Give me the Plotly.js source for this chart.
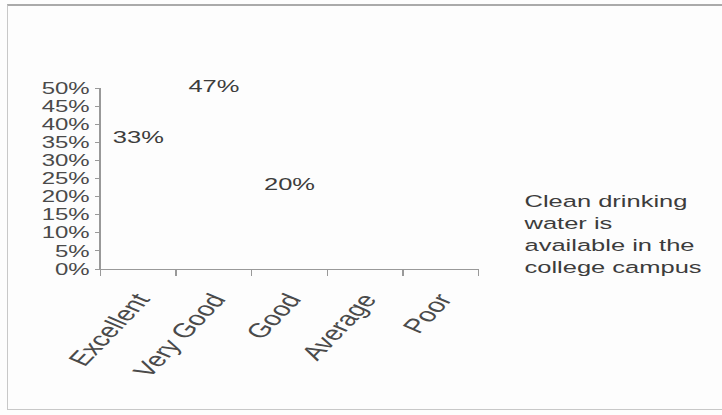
<!DOCTYPE html>
<html><head><meta charset="utf-8">
<script src="https://cdn.plot.ly/plotly-3.0.1.min.js"></script>
<style>
html,body{margin:0;padding:0;background:#fdfdfd;overflow:hidden;width:722px;height:415px;}
#chart{position:absolute;left:0;top:0;width:481px;height:415px;transform:scaleX(1.5);transform-origin:0 0;}
#frame{position:absolute;left:7px;top:4px;width:740px;height:406px;border:1px solid #c8c8c8;border-top:2px solid #aaaaaa;box-sizing:border-box;pointer-events:none;}
</style></head><body>
<div id="chart"></div>
<div id="frame"></div>
<script>
// Data
const categories = ['Excellent', 'Very Good', 'Good', 'Average', 'Poor'];
const values = [0.33, 0.47, 0.20, 0, 0];
const seriesName = 'Clean drinking<br>water is<br>available in the<br>college campus';
const yTickValues = [0, 0.05, 0.10, 0.15, 0.20, 0.25, 0.30, 0.35, 0.40, 0.45, 0.50];

const labels = values.map(v => v > 0 ? Math.round(v * 100) + '%' : '');

const trace = {
  type: 'bar',
  x: categories,
  y: values,
  name: seriesName,
  text: labels,
  textposition: 'outside',
  cliponaxis: false,
  textfont: {family: 'Liberation Sans, Arial, sans-serif', size: 17, color: '#3c3c3c'},
  marker: {color: '#fdfdfd', line: {width: 0}},
  showlegend: true,
  hoverinfo: 'skip'
};

const layout = {
  width: 481,
  height: 415,
  margin: {l: 67, r: 162, t: 88, b: 146, autoexpand: false},
  paper_bgcolor: 'rgba(0,0,0,0)',
  plot_bgcolor: 'rgba(0,0,0,0)',
  font: {family: 'Liberation Sans, Arial, sans-serif', color: '#4a4a4a'},
  showlegend: true,
  legend: {
    x: 0.963, xanchor: 'left', y: 0.195, yanchor: 'middle',
    font: {size: 17, color: '#3c3c3c'},
    bgcolor: 'rgba(0,0,0,0)'
  },
  xaxis: {
    type: 'category',
    showline: true, linecolor: '#999', linewidth: 1,
    ticks: 'outside', ticklen: 6, tickcolor: '#999',
    tickson: 'boundaries',
    tickangle: -57,
    ticklabelstandoff: 10,
    tickfont: {size: 20, color: '#4a4a4a'},
    showgrid: false, zeroline: false
  },
  yaxis: {
    range: [0, 0.5],
    tickvals: yTickValues,
    tickformat: '.0%',
    showline: true, linecolor: '#999', linewidth: 1,
    ticks: 'outside', ticklen: 3, tickcolor: '#999',
    tickfont: {size: 16, color: '#4a4a4a'},
    showgrid: false, zeroline: false
  },
  bargap: 0.3
};

Plotly.newPlot('chart', [trace], layout, {displayModeBar: false, staticPlot: true});
</script>
</body></html>
